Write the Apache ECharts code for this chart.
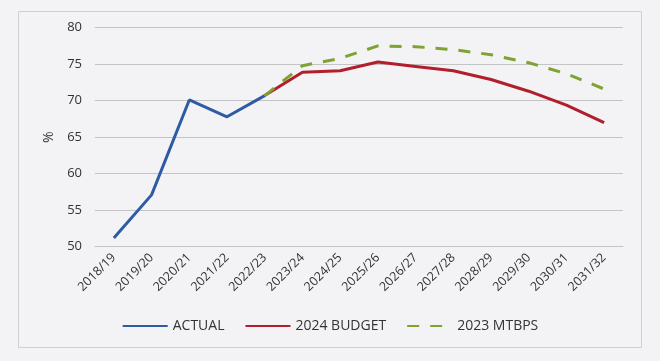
<!DOCTYPE html>
<html><head><meta charset="utf-8">
<script src="https://cdn.jsdelivr.net/npm/echarts@6/dist/echarts.min.js"></script>
<style>
html,body{margin:0;padding:0;background:#f3f2f4;}
#c{width:660px;height:361px;}
</style></head>
<body><div id="c"></div>
<script>
const categories = ['2018/19','2019/20','2020/21','2021/22','2022/23','2023/24','2024/25','2025/26','2026/27','2027/28','2028/29','2029/30','2030/31','2031/32'];
const actual = [51.2, 57.1, 70.1, 67.8, 70.7, null, null, null, null, null, null, null, null, null];
const budget2024 = [null, null, null, null, 70.7, 73.9, 74.1, 75.3, 74.7, 74.1, 72.9, 71.3, 69.4, 67.0];
const mtbps2023 = [null, null, null, null, 70.7, 74.8, 75.8, 77.5, 77.4, 77.0, 76.3, 75.2, 73.7, 71.6];
const yTicks = [50, 55, 60, 65, 70, 75, 80];

const chart = echarts.init(document.getElementById('c'));
const font = 'Open Sans, DejaVu Sans, sans-serif';
chart.setOption({
  backgroundColor: '#f3f2f4',
  animation: false,
  textStyle: {fontFamily: font},
  graphic: [{
    type: 'rect', shape: {x: 18.5, y: 11.5, width: 623, height: 336},
    style: {fill: 'none', stroke: '#cfcfd3', lineWidth: 1}, silent: true
  }],
  grid: {left: 95, right: 37, top: 27.7, bottom: 114.3, containLabel: false},
  xAxis: {
    type: 'category', data: categories, boundaryGap: true,
    axisLine: {show: true, lineStyle: {color: '#c4c4c4'}},
    axisTick: {show: false},
    axisLabel: {rotate: 45, fontSize: 12.5, color: '#333333', margin: 9, fontFamily: font}
  },
  yAxis: {
    type: 'value', min: yTicks[0], max: yTicks[yTicks.length-1], interval: 5,
    name: '%', nameLocation: 'middle', nameGap: 38, nameRotate: 90,
    nameTextStyle: {fontSize: 14, color: '#333333', fontFamily: font},
    axisLine: {show: false}, axisTick: {show: false},
    axisLabel: {fontSize: 13, color: '#333333', margin: 13, fontFamily: font},
    splitLine: {lineStyle: {color: '#c4c4c4', width: 1}}
  },
  legend: {
    bottom: 23, left: 'center', itemWidth: 45, itemHeight: 3, itemGap: 20,
    itemStyle: {opacity: 0},
    textStyle: {fontSize: 14, color: '#333333', fontFamily: font},
    data: ['ACTUAL', '2024 BUDGET', '2023 MTBPS']
  },
  series: [
    {name: 'ACTUAL', type: 'line', data: actual, symbol: 'none', color: '#2e5ca4',
     lineStyle: {width: 3, color: '#2e5ca4'}},
    {name: '2024 BUDGET', type: 'line', data: budget2024, symbol: 'none', color: '#b01f2b',
     lineStyle: {width: 3, color: '#b01f2b'}},
    {name: '2023 MTBPS', type: 'line', data: mtbps2023, symbol: 'none', color: '#7fa332',
     lineStyle: {width: 3, color: '#7fa332', type: [12, 11]}}
  ]
});
</script></body></html>
